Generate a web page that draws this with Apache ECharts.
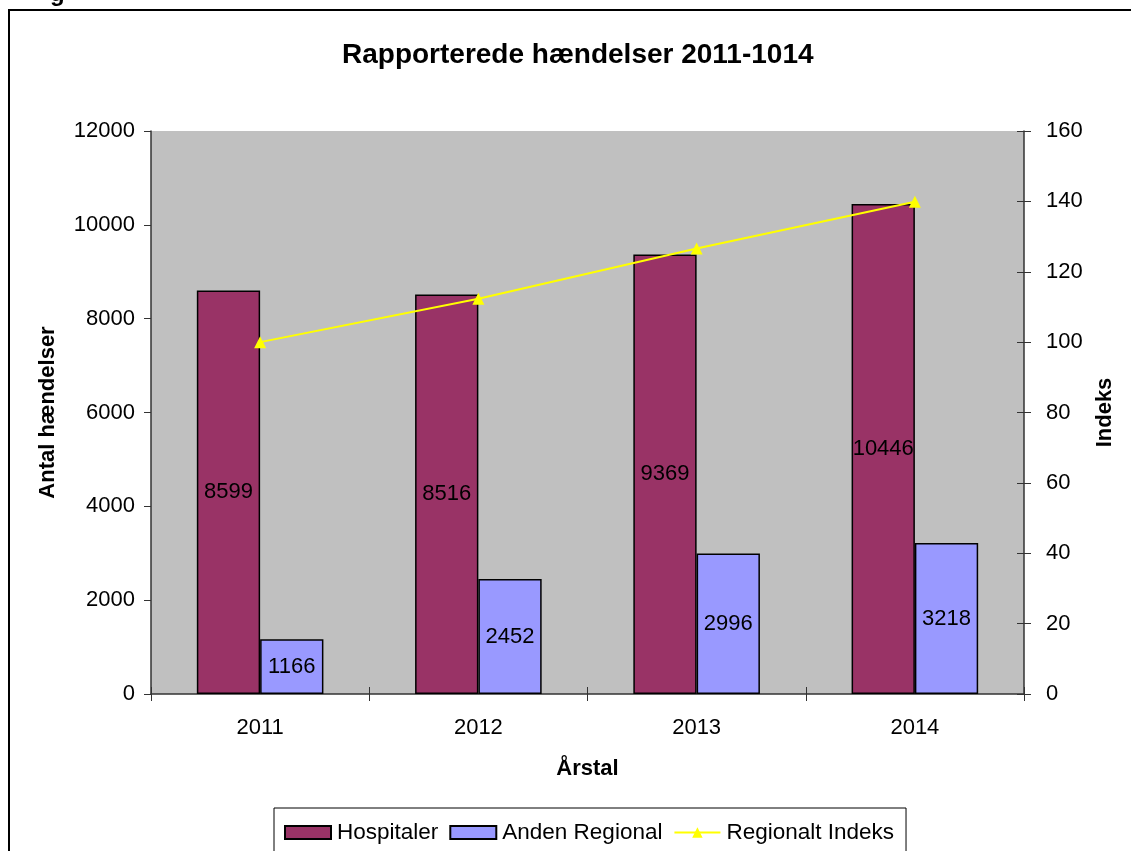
<!DOCTYPE html>
<html>
<head>
<meta charset="utf-8">
<script src="https://cdn.jsdelivr.net/npm/echarts@6/dist/echarts.min.js"></script>
<style>html,body{margin:0;padding:0;background:#fff}#c{width:1131px;height:851px}</style>
</head>
<body>
<div id="c"></div>
<script>
const categories = ['2011', '2012', '2013', '2014'];
const hospitaler = [8599, 8516, 9369, 10446];
const andenRegional = [1166, 2452, 2996, 3218];
const regionaltIndeks = [100, 112.3, 126.6, 139.9];
const leftTicks = { min: 0, max: 12000, interval: 2000 };
const rightTicks = { min: 0, max: 160, interval: 20 };

const FF = 'Liberation Sans, Arial, sans-serif';
const chart = echarts.init(document.getElementById('c'));
const axisCol = '#333';
chart.setOption({
  animation: false,
  backgroundColor: '#fff',
  textStyle: { fontFamily: FF },
  title: {
    text: 'Rapporterede hændelser 2011-1014',
    left: 337, top: 36,
    textStyle: { fontFamily: FF, fontSize: 28, fontWeight: 'bold', color: '#000' }
  },
  graphic: [
    { type: 'rect', shape: { x: 9, y: 10, width: 1200, height: 900 }, style: { fill: 'none', stroke: '#000', lineWidth: 2 }, z: -1 },
    { type: 'text', left: 50, top: -18, style: { text: 'g', font: 'bold 24px Liberation Sans', fill: '#000' } }
  ],
  legend: {
    left: 274, top: 808,
    padding: [13, 12, 13, 10],
    itemGap: 11, itemWidth: 46, itemHeight: 13,
    borderColor: '#000', borderWidth: 1,
    textStyle: { fontFamily: FF, fontSize: 22.5, color: '#000', padding: [0, 0, 0, 1] },
    data: [
      { name: 'Hospitaler', icon: 'rect' },
      { name: 'Anden Regional', icon: 'rect' },
      { name: 'Regionalt Indeks' }
    ]
  },
  grid: { left: 151, right: 107, top: 131, bottom: 157, show: true, backgroundColor: '#C0C0C0', borderWidth: 0 },
  xAxis: [{
    type: 'category', data: categories, position: 'bottom',
    name: 'Årstal', nameLocation: 'middle', nameGap: 64,
    nameTextStyle: { fontFamily: FF, fontSize: 22, fontWeight: 'bold', color: '#000' },
    axisLine: { lineStyle: { color: axisCol, width: 1.5 } },
    axisTick: { show: true, length: 7, lineStyle: { color: axisCol } },
    axisLabel: { fontFamily: FF, fontSize: 22, color: '#000', margin: 23 }
  }, {
    type: 'category', data: categories, position: 'bottom', offset: 0,
    axisLine: { show: false },
    axisTick: { show: true, inside: true, length: 7, lineStyle: { color: axisCol } },
    axisLabel: { show: false }
  }],
  yAxis: [{
    type: 'value', position: 'left', min: leftTicks.min, max: leftTicks.max, interval: leftTicks.interval,
    name: 'Antal hændelser', nameLocation: 'middle', nameGap: 92, nameRotate: 90,
    nameTextStyle: { fontFamily: FF, fontSize: 22, fontWeight: 'bold', color: '#000' },
    axisLine: { show: true, lineStyle: { color: axisCol, width: 1.5 } },
    axisTick: { show: true, length: 7, lineStyle: { color: axisCol } },
    axisLabel: { fontFamily: FF, fontSize: 22, color: '#000', margin: 16, formatter: v => String(v) },
    splitLine: { show: false }
  }, {
    type: 'value', position: 'right', min: rightTicks.min, max: rightTicks.max, interval: rightTicks.interval,
    name: 'Indeks', nameLocation: 'middle', nameGap: 70, nameRotate: 90,
    nameTextStyle: { fontFamily: FF, fontSize: 22, fontWeight: 'bold', color: '#000' },
    axisLine: { show: true, lineStyle: { color: axisCol, width: 1.5 } },
    axisTick: { show: true, length: 7, lineStyle: { color: axisCol } },
    axisLabel: { fontFamily: FF, fontSize: 22, color: '#000', margin: 22, formatter: v => String(v) },
    splitLine: { show: false }
  }, {
    type: 'value', position: 'right', offset: 0, min: rightTicks.min, max: rightTicks.max, interval: rightTicks.interval,
    axisLine: { show: false },
    axisTick: { show: true, inside: true, length: 7, lineStyle: { color: axisCol } },
    axisLabel: { show: false },
    splitLine: { show: false }
  }],
  series: [{
    name: 'Hospitaler', type: 'bar', data: hospitaler, xAxisIndex: 0, yAxisIndex: 0,
    barGap: '0%', barCategoryGap: '42%',
    itemStyle: { color: '#993366', borderColor: '#000', borderWidth: 1.5 },
    label: { show: true, position: 'inside', fontFamily: FF, fontSize: 22, color: '#000' }
  }, {
    name: 'Anden Regional', type: 'bar', data: andenRegional, xAxisIndex: 0, yAxisIndex: 0,
    barGap: '0%', barCategoryGap: '42%',
    itemStyle: { color: '#9999FF', borderColor: '#000', borderWidth: 1.5 },
    label: { show: true, position: 'inside', fontFamily: FF, fontSize: 22, color: '#000' }
  }, {
    name: 'Regionalt Indeks', type: 'line', data: regionaltIndeks, xAxisIndex: 0, yAxisIndex: 1,
    symbol: 'triangle', symbolSize: 12,
    lineStyle: { color: '#FFFF00', width: 2 },
    itemStyle: { color: '#FFFF00' },
    z: 5
  }]
});
</script>
</body>
</html>
